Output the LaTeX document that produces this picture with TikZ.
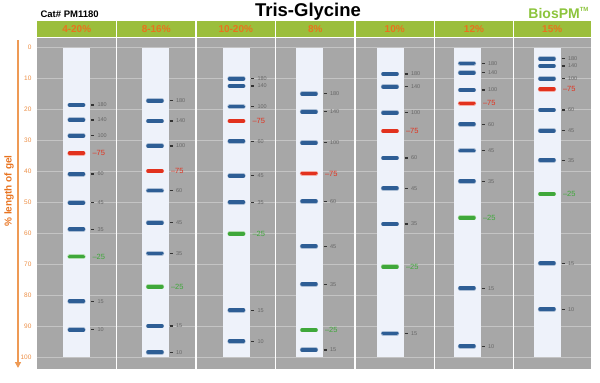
\documentclass[tikz,border=0pt]{standalone}
\usepackage{fontspec}
\setmainfont{Liberation Sans}
\usetikzlibrary{arrows.meta}

\definecolor{gelgray}{HTML}{A7A7A7}
\definecolor{gridgray}{HTML}{C4C4C4}
\definecolor{lanefill}{HTML}{EEF2FA}
\definecolor{bandblue}{HTML}{2E5E95}
\definecolor{bandred}{HTML}{E2321E}
\definecolor{bandgreen}{HTML}{3FA83A}
\definecolor{headgreen}{HTML}{9BBE3C}
\definecolor{brandgreen}{HTML}{8CC43C}
\definecolor{headorange}{HTML}{E8731F}
\definecolor{axisorange}{HTML}{EE9A55}

\tikzset{
  gelhead/.style={text=headorange, font=\bfseries\fontsize{10}{10}\selectfont},
  markertext/.style={anchor=west, text=black!60, font=\fontsize{5.5}{5.5}\selectfont},
  keytext/.style={anchor=west, font=\fontsize{7.5}{7.5}\selectfont},
  band/.style={line width=3.8pt, line cap=round},
}

\begin{document}
\begin{tikzpicture}[x=1pt, y=-1pt]
\useasboundingbox (0,0) rectangle (600,383);

% titles
\node[font=\bfseries\fontsize{18.5}{18.5}\selectfont] (title) at (308,12) {Tris-Glycine};
\node[anchor=west, font=\bfseries\fontsize{9.5}{9.5}\selectfont] (cat) at (37,14) {Cat\# PM1180};
\node[anchor=east, text=brandgreen, font=\bfseries\fontsize{14}{14}\selectfont] (brand) at (592,13)
  {BiosPM\raisebox{0.9ex}{\fontsize{6}{6}\selectfont TM}};

% header bar and gel background
\fill[headgreen] (37,21) rectangle (591,37);
\fill[gelgray] (37,38) rectangle (591,369);
\foreach \p in {0,10,...,100}
  \draw[gridgray, line width=0.6] (37,{47+3.1*\p}) -- (591,{47+3.1*\p});
\foreach \xs in {116.5,196,275.5,355,434.5,513.5}
  \draw[white, line width=1.6] (\xs,21) -- (\xs,369);

\foreach \xh/\name [count=\i] in {76.75/4-20\%, 156.25/8-16\%, 235.75/10-20\%, 315.25/8\%,
                                   394.75/10\%, 474/12\%, 552.25/15\%}
  \node[gelhead] (head\i) at (\xh,29.5) {\name};

% axis
\coordinate (axtop) at (18,40);
\coordinate (axbot) at (18,368);
\draw[axisorange, line width=1.4, -{Triangle[length=6,width=6]}] (axtop) -- (axbot);
\foreach \p in {0,10,...,100}
  \node[anchor=east, text=axisorange!70!headorange, font=\fontsize{6.5}{6.5}\selectfont] (tick\p)
    at (35,{47+3.1*\p}) {\p};
\node[rotate=90, text=headorange, font=\bfseries\fontsize{10}{10}\selectfont] (axlabel) at (9,191)
  {\% length of gel};

% lanes and bands
\foreach \xc/\bands [count=\i] in {
  76.5/{18.7/180,23.5/140,28.6/100,34.3/75,41/60,50.2/45,58.8/35,67.6/25,82/15,91.2/10},
  155/{17.3/180,23.9/140,31.9/100,40/75,46.3/60,56.7/45,66.6/35,77.3/25,90/15,98.5/10},
  236.5/{10.2/180,12.6/140,19.2/100,23.9/75,30.4/60,41.5/45,50.1/35,60.2/25,84.9/15,94.9/10},
  309/{15.1/180,20.9/140,30.9/100,40.8/75,49.8/60,64.3/45,76.5/35,91.3/25,97.7/15},
  390/{8.7/180,12.8/140,21.2/100,27.1/75,35.8/60,45.6/45,57.1/35,70.9/25,92.4/15},
  467/{5.3/180,8.3/140,13.9/100,18.2/75,24.9/60,33.4/45,43.3/35,55.1/25,77.8/15,96.5/10},
  547/{3.8/180,6.1/140,10.2/100,13.6/75,20.3/60,27/45,36.5/35,47.4/25,69.8/15,84.6/10}} {
  \fill[lanefill] (\xc-13.5,48) rectangle (\xc+13.5,357);
  \foreach \p/\m in \bands {
    \pgfmathsetmacro\yb{47+3.1*\p}
    \ifnum\m=75\relax \def\bc{bandred}\else\ifnum\m=25\relax \def\bc{bandgreen}\else\def\bc{bandblue}\fi\fi
    \draw[\bc!40!white, line width=4.8pt, line cap=round] (\xc-6.8,\yb) -- (\xc+6.8,\yb);
    \draw[band, \bc] (\xc-6.8,\yb) -- (\xc+6.8,\yb);
    \ifnum\m=75\relax
      \node[keytext, text=bandred] (mk\i-\m) at (\xc+12.5,\yb) {--\m};
    \else\ifnum\m=25\relax
      \node[keytext, text=bandgreen] (mk\i-\m) at (\xc+12.5,\yb) {--\m};
    \else
      \draw[black!80, line width=1.3] (\xc+14.5,\yb) -- (\xc+17.5,\yb);
      \node[markertext] (mk\i-\m) at (\xc+17.5,\yb) {\m};
    \fi\fi
  }
}
\end{tikzpicture}
\end{document}
